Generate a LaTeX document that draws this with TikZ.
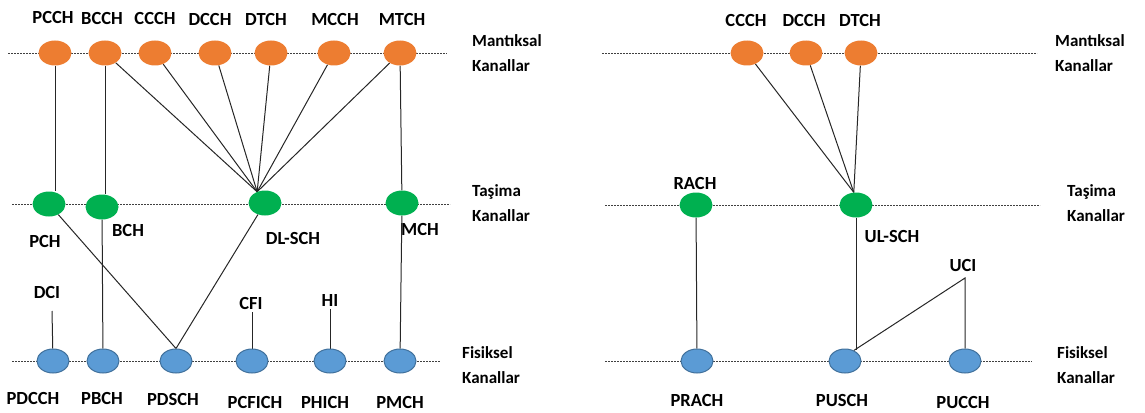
\documentclass[tikz,border=0pt]{standalone}
\usepackage{fontspec}
\setmainfont{Carlito}
\usepackage{xcolor}
\usepackage{tikz}
\usetikzlibrary{shapes.geometric,backgrounds}
\definecolor{logfill}{HTML}{ED7D31}
\definecolor{trfill}{HTML}{00B050}
\definecolor{phyfill}{HTML}{5B9BD5}
\definecolor{phyline}{HTML}{41719C}
\tikzset{
  chlog/.style={ellipse,fill=logfill,minimum width=33pt,minimum height=25pt,inner sep=0pt},
  chtr/.style={ellipse,fill=trfill,minimum width=33pt,minimum height=25pt,inner sep=0pt},
  chphy/.style={ellipse,fill=phyfill,draw=phyline,line width=1pt,minimum width=32pt,minimum height=24pt,inner sep=0pt},
  chname/.style={font=\bfseries\fontsize{18.5}{22}\selectfont,inner sep=0pt},
  chside/.style={font=\bfseries\fontsize{17}{25}\selectfont,align=left,anchor=west,inner sep=0pt},
  chguide/.style={line width=0.8pt,draw=black!75,dash pattern=on 2pt off 1pt},
  chlink/.style={line width=1pt,draw=black!85}
}

\begin{document}
\begin{tikzpicture}[x=1pt,y=-1pt]
  \useasboundingbox (0,0) rectangle (1145,412);
  % downlink: logical channels
  \node[chlog] (pcch) at (55,53) {};
  \node[chlog] (bcch) at (105,53) {};
  \node[chlog] (ccch) at (155,53) {};
  \node[chlog] (dcch) at (215,53) {};
  \node[chlog] (dtch) at (271,53) {};
  \node[chlog] (mcch) at (334,53) {};
  \node[chlog] (mtch) at (400,53) {};
  \node[chname] (pcchl) at (53,17) {PCCH};
  \node[chname] (bcchl) at (102,18) {BCCH};
  \node[chname] (ccchl) at (155,18) {CCCH};
  \node[chname] (dcchl) at (210,19) {DCCH};
  \node[chname] (dtchl) at (266,19) {DTCH};
  \node[chname] (mcchl) at (335,19) {MCCH};
  \node[chname] (mtchl) at (402,19) {MTCH};
  % downlink: transport channels
  \node[chtr] (pch) at (49,204) {};
  \node[chtr] (bch) at (102,207) {};
  \node[chtr] (dlsch) at (265,203) {};
  \node[chtr] (mch) at (402,203) {};
  \node[chname] (pchl) at (45,241) {PCH};
  \node[chname] (bchl) at (128,230) {BCH};
  \node[chname] (dlschl) at (293,238) {DL-SCH};
  \node[chname] (mchl) at (420,229) {MCH};
  % downlink: physical channels
  \node[chphy] (pdcch) at (53,361) {};
  \node[chphy] (pbch) at (103,361) {};
  \node[chphy] (pdsch) at (176,361) {};
  \node[chphy] (pcfich) at (252,361) {};
  \node[chphy] (phich) at (330,361) {};
  \node[chphy] (pmch) at (400,361) {};
  \node[chname] (pdcchl) at (33,398) {PDCCH};
  \node[chname] (pbchl) at (102,398) {PBCH};
  \node[chname] (pdschl) at (173,399) {PDSCH};
  \node[chname] (pcfichl) at (255,402) {PCFICH};
  \node[chname] (phichl) at (325,402) {PHICH};
  \node[chname] (pmchl) at (400,402) {PMCH};
  \coordinate (dci) at (52,311);
  \coordinate (cfi) at (252,312);
  \coordinate (hi) at (330,309);
  \node[chname] (dcil) at (47,292) {DCI};
  \node[chname] (cfil) at (251,303) {CFI};
  \node[chname] (hil) at (330,300) {HI};
  \node[chside] (lside1) at (472,53) {Mantıksal\\Kanallar};
  \node[chside] (lside2) at (472,203) {Taşima\\Kanallar};
  \node[chside] (lside3) at (462,365) {Fisiksel\\Kanallar};
  % uplink
  \node[chlog] (rccch) at (747,53) {};
  \node[chlog] (rdcch) at (806,53) {};
  \node[chlog] (rdtch) at (861,53) {};
  \node[chname] (rccchl) at (746,20) {CCCH};
  \node[chname] (rdcchl) at (804,20) {DCCH};
  \node[chname] (rdtchl) at (860,20) {DTCH};
  \node[chtr] (rach) at (696,205) {};
  \node[chtr] (ulsch) at (856,205) {};
  \node[chname] (rachl) at (695,183) {RACH};
  \node[chname] (ulschl) at (892,236) {UL-SCH};
  \node[chphy] (prach) at (697,361) {};
  \node[chphy] (pusch) at (845,361) {};
  \node[chphy] (pucch) at (965,361) {};
  \node[chname] (prachl) at (697,400) {PRACH};
  \node[chname] (puschl) at (842,400) {PUSCH};
  \node[chname] (pucchl) at (963,402) {PUCCH};
  \coordinate (uci) at (965,278);
  \node[chname] (ucil) at (963,265) {UCI};
  \node[chside] (rside1) at (1055,53) {Mantıksal\\Kanallar};
  \node[chside] (rside2) at (1067,203) {Taşima\\Kanallar};
  \node[chside] (rside3) at (1057,365) {Fisiksel\\Kanallar};
  \begin{scope}[on background layer]
    % guide lines
    \draw[chguide] (8,53) -- (447,53);
    \draw[chguide] (12,204) -- (450,204);
    \draw[chguide] (12,361) -- (440,361);
    \draw[chguide] (602,53) -- (1037,53);
    \draw[chguide] (605,205) -- (1040,205);
    \draw[chguide] (605,361) -- (1032,361);
    % mappings
    \draw[chlink] (pcch.south) -- (pcch.south |- pch.north);
    \draw[chlink] (bcch.south) -- (bcch.south |- bch.north);
    \draw[chlink] (bch) -- (pbch);
    \foreach \src in {bcch,ccch,dcch,dtch,mcch,mtch}
      \draw[chlink] (\src) -- (dlsch.125);
    \draw[chlink] (mtch) -- (mch);
    \draw[chlink] (mch) -- (pmch);
    \draw[chlink] (pch) -- (pdsch.north);
    \draw[chlink] (dlsch) -- (pdsch.north);
    \draw[chlink] (dci) -- (pdcch);
    \draw[chlink] (cfi) -- (pcfich);
    \draw[chlink] (hi) -- (phich);
    \foreach \src in {rccch,rdcch,rdtch}
      \draw[chlink] (\src) -- (ulsch.100);
    \draw[chlink] (rach) -- (prach);
    \draw[chlink] (ulsch.south) -- (ulsch.south |- pusch.50);
    \draw[chlink] (pusch.50) -- (uci) -- (pucch);
  \end{scope}
\end{tikzpicture}
\end{document}
